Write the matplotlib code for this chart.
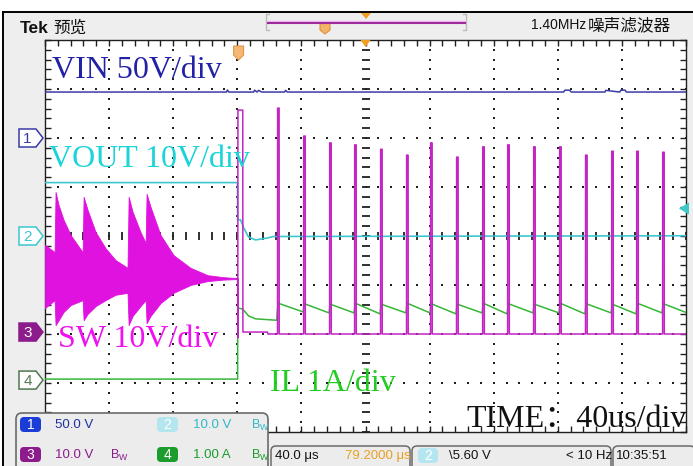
import numpy as np
import matplotlib
matplotlib.use("Agg")
import matplotlib.pyplot as plt
from matplotlib.patches import Rectangle, Polygon, FancyBboxPatch

plt.rcParams['font.family'] = ['Liberation Sans', 'Noto Sans CJK SC']

# horizontal: 40 us/div, trigger at t = 0, screen centre at 79.2 us
T_DIV = 40.0
T_DELAY = 79.2
T_LEFT = T_DELAY - 5 * T_DIV
T_RIGHT = T_DELAY + 5 * T_DIV

# channel scale (units/div) and ground position (div from centre)
CH1_SCALE, CH1_POS = 50.0, 2.0     # VIN
CH2_SCALE, CH2_POS = 10.0, 0.0     # VOUT
CH3_SCALE, CH3_POS = 10.0, -1.96   # SW
CH4_SCALE, CH4_POS = 1.0, -2.94    # IL
TRIG_LEVEL = 5.60                  # CH2, falling edge

# CH1 VIN (V)
vin_t = [-120.8, -7.5, -7.0, -6.0, 9.4, 10.0, 11.5, 12.5, 14.5, 28.7, 29.4, 30.4,
         202.8, 203.6, 206.5, 207.6, 228.6, 229.2, 237.8, 238.6, 241.2, 242.0, 279.2]
vin_v = [46.9, 46.9, 49.0, 46.9, 46.9, 48.8, 46.9, 48.6, 46.9, 46.9, 48.6, 46.9,
         46.9, 48.8, 48.8, 46.9, 46.9, 48.6, 46.9, 48.8, 48.8, 46.9, 46.9]

# CH2 VOUT (V)
vout_t = [-120.8, -0.7, -0.6, 1.2, 3.3, 6.2, 10.6, 18.1, 21.8, 279.2]
vout_v = [10.9, 10.9, 3.3, 3.3, 1.6, -0.2, -0.8, -0.4, -0.1, 0.05]

# CH3 SW: ringing envelope before the trigger (V)
sw_ring_t = [-120.8, -114.8, -114.2, -112.3, -109.2, -104.8, -97.3, -96.7, -94.2, -89.2,
             -83.0, -76.8, -69.3, -68.6, -66.1, -61.2, -58.0, -57.4, -54.9, -48.7,
             -40.6, -30.0, -19.3, -9.4, -1.2]
sw_ring_hi = [17.8, 16.3, 28.6, 25.9, 22.9, 19.8, 16.3, 27.6, 24.9, 20.4,
              17.1, 14.7, 13.1, 27.6, 24.5, 20.4, 18.2, 28.2, 25.5, 19.8,
              15.7, 13.1, 11.6, 11.2, 11.0]
sw_ring_lo = [4.9, 6.5, 1.4, 2.4, 4.1, 5.5, 6.5, 2.4, 3.7, 5.3,
              6.5, 7.6, 8.0, 1.4, 3.3, 5.3, 6.5, 1.8, 3.3, 5.9,
              8.0, 9.6, 10.4, 10.7, 10.8]

# CH3 SW around the trigger, then the switching pulses
sw_trig_t = [-1.2, -0.6, -0.5, -0.4, 2.6, 2.7, 18.0, 18.3]
sw_trig_v = [10.9, 10.9, -1.2, 45.3, 45.3, 0.0, 0.0, -0.4]
sw_pulse_t = [24.3, 40.6, 56.8, 72.4, 88.6, 104.8, 119.8, 136.0,
              152.3, 167.9, 184.1, 200.3, 216.5, 232.8, 248.4, 264.6]
sw_pulse_pk = [45.7, 40.0, 38.6, 38.2, 37.3, 36.1, 38.6, 35.7,
               37.8, 38.2, 37.8, 37.8, 36.1, 36.9, 36.9, 36.7]
SW_LOW = -0.4
PULSE_W = 1.0

# CH4 IL (A)
il_pre_t = [-120.8, -0.6, -0.5, 2.5, 6.2, 10.6, 23.8]
il_pre_v = [0.02, 0.02, 1.47, 1.45, 1.31, 1.25, 1.22]
il_peak = [1.57, 1.56, 1.55, 1.57, 1.55, 1.57, 1.56, 1.55,
           1.57, 1.56, 1.55, 1.57, 1.56, 1.55, 1.57, 1.56]
il_valley = [1.39, 1.37, 1.37, 1.35, 1.37, 1.37, 1.35, 1.37,
             1.35, 1.37, 1.37, 1.35, 1.37, 1.35, 1.37, 1.38]

C_VIN = '#3a3aa6'
C_VOUT = '#3cc6d2'
C_SW = '#c424c4'
C_RING = '#e012e0'
C_IL = '#36b636'


def div(v, scale, pos):
    return pos + np.asarray(v, dtype=float) / scale


fig = plt.figure(figsize=(6.93, 4.66), dpi=100)

# frame / background in pixel coordinates
bg = fig.add_axes([0, 0, 1, 1], zorder=0)
bg.set_xlim(0, 693)
bg.set_ylim(466, 0)
bg.axis('off')
bg.add_patch(Rectangle((3, 12), 690, 454, fc='#eeeeee', ec='none'))
bg.plot([3, 693], [12, 12], color='black', lw=1.4)
bg.plot([3, 3], [12, 466], color='black', lw=1.4)

# graticule
ax = fig.add_axes([45 / 693, 34 / 466, 641 / 693, 392 / 466], zorder=1)
ax.set_facecolor('white')
ax.set_xlim(T_LEFT, T_RIGHT)
ax.set_ylim(-4, 4)
xs_minor = np.arange(T_LEFT, T_RIGHT + 1e-6, T_DIV / 5)
ys_minor = np.arange(-4, 4.0001, 0.2)
ax.set_xticks(xs_minor)
ax.set_yticks(ys_minor)
ax.tick_params(axis='both', direction='in', length=4, width=1, color='#202020',
               top=True, right=True, labelbottom=False, labelleft=False)
for s in ax.spines.values():
    s.set_color('#202020')
    s.set_linewidth(1.0)

for k in range(1, 10):
    xm = T_LEFT + k * T_DIV
    if k == 5:
        ax.plot(np.full(len(ys_minor), xm), ys_minor, ls='none', marker='_',
                ms=6, mew=1.3, color='#202020', zorder=1)
    else:
        ax.plot(np.full(len(ys_minor), xm), ys_minor, ls='none', marker='s',
                ms=1.5, mew=0, color='#202020', zorder=1)
for j in range(1, 8):
    ym = -4 + j
    if j == 4:
        ax.plot(xs_minor, np.full(len(xs_minor), ym), ls='none', marker='|',
                ms=6, mew=1.3, color='#202020', zorder=1)
    else:
        ax.plot(xs_minor, np.full(len(xs_minor), ym), ls='none', marker='s',
                ms=1.5, mew=0, color='#202020', zorder=1)

# CH4 IL
il_t = list(il_pre_t)
il_v = list(il_pre_v)
for k, t0 in enumerate(sw_pulse_t):
    t1 = sw_pulse_t[k + 1] - 0.3 if k + 1 < len(sw_pulse_t) else T_RIGHT
    il_t += [t0 + 0.3, t1]
    il_v += [il_peak[k], il_valley[k]]
ax.plot(il_t, div(il_v, CH4_SCALE, CH4_POS), color=C_IL, lw=1.1, zorder=3)

# CH2 VOUT
ax.plot(vout_t, div(vout_v, CH2_SCALE, CH2_POS), color=C_VOUT, lw=1.2, zorder=3)

# CH1 VIN
ax.plot(vin_t, div(vin_v, CH1_SCALE, CH1_POS), color=C_VIN, lw=1.1, zorder=3)

# CH3 SW
ax.fill_between(sw_ring_t, div(sw_ring_hi, CH3_SCALE, CH3_POS),
                div(sw_ring_lo, CH3_SCALE, CH3_POS), color=C_RING, lw=0.6, zorder=4)
sw_t = list(sw_trig_t)
sw_v = list(sw_trig_v)
for t0, pk in zip(sw_pulse_t, sw_pulse_pk):
    sw_t += [t0, t0 + 0.05, t0 + PULSE_W, t0 + PULSE_W + 0.05]
    sw_v += [SW_LOW, pk, pk, SW_LOW]
sw_t.append(T_RIGHT)
sw_v.append(SW_LOW)
ax.plot(sw_t, div(sw_v, CH3_SCALE, CH3_POS), color=C_SW, lw=1.1, zorder=4)

# overlay: readouts, markers and labels in pixel coordinates
ov = fig.add_axes([0, 0, 1, 1], zorder=3)
ov.set_xlim(0, 693)
ov.set_ylim(466, 0)
ov.axis('off')
ov.patch.set_alpha(0)


def to_px(t, d):
    return ov.transData.inverted().transform(ax.transData.transform((t, d)))


# header
ov.text(20, 33, 'Tek', fontsize=12.5, fontweight='bold', color='#111111')
ov.text(53, 33, '预览', fontsize=12, color='#111111', family='Noto Sans CJK SC')
ov.text(531, 29, '1.40MHz', fontsize=10, color='#111111')
ov.text(588, 30, '噪声滤波器', fontsize=12, color='#111111', family='Noto Sans CJK SC')

# record position bar
ov.plot([269, 266, 266, 269], [14, 14, 30, 30], color='#bbbbbb', lw=1)
ov.plot([463, 466, 466, 463], [14, 14, 30, 30], color='#bbbbbb', lw=1)
ov.plot([268, 465], [21, 21], color='#f4b8f4', lw=1)
ov.plot([268, 465], [23, 23], color='#9c2c9c', lw=1.5)
ov.add_patch(Polygon([(320, 22), (330, 22), (330, 30), (325, 34), (320, 30)],
                     fc='#f2b468', ec='#e09040', lw=0.8))
ov.add_patch(Polygon([(361, 13), (371, 13), (366, 19)], fc='#f0a020', ec='none'))

# trigger position / horizontal position markers
xt, _ = to_px(0.0, 4)
ov.add_patch(Polygon([(xt - 5, 46), (xt + 5, 46), (xt + 5, 55), (xt, 60), (xt - 5, 55)],
                     fc='#f4b874', ec='#e09848', lw=0.8))
xc, yc = to_px(T_DELAY, 4)
ov.add_patch(Polygon([(xc - 5, yc), (xc + 5, yc), (xc, yc + 7)], fc='#f0a020', ec='none'))

# trigger level arrow
_, ytl = to_px(T_RIGHT, div(TRIG_LEVEL, CH2_SCALE, CH2_POS))
ov.add_patch(Polygon([(679, ytl), (689, ytl - 6), (689, ytl + 6)], fc='#40c8c8', ec='none'))

# channel ground markers
tags = [('1', CH1_POS, C_VIN, 'white', C_VIN),
        ('2', CH2_POS, C_VOUT, 'white', C_VOUT),
        ('3', CH3_POS, '#8c1c8c', '#8c1c8c', 'white'),
        ('4', CH4_POS, '#507850', 'white', '#507850')]
for lab, pos, edge, face, tc in tags:
    _, y = to_px(T_LEFT, pos)
    ov.add_patch(Polygon([(19, y - 9), (36, y - 9), (43, y), (36, y + 9), (19, y + 9)],
                         fc=face, ec=edge, lw=1.1))
    ov.text(27.5, y + 0.5, lab, fontsize=11, color=tc, ha='center', va='center')

# channel labels
serif = ['Liberation Serif', 'Noto Sans CJK SC']
ov.text(52, 78, 'VIN 50V/div', fontsize=23, color='#2222a6', family=serif)
ov.text(49, 167, 'VOUT 10V/div', fontsize=23, color='#1ad4d8', family=serif)
ov.text(58, 347, 'SW 10V/div', fontsize=23, color='#f010f0', family=serif)
ov.text(270, 391, 'IL 1A/div', fontsize=23, color='#22cc22', family=serif)
ov.text(466, 427, 'TIME：40us/div', fontsize=23, color='#111111', family=serif)

# vertical readout panel
ov.add_patch(FancyBboxPatch((16, 413), 252, 60, boxstyle='round,pad=0,rounding_size=6',
                            fc='#ececec', ec='#6a6a6a', lw=1.2))
badges = [(20, 417, '1', '#1c3cd8'), (157, 417, '2', '#b4e6f0'),
          (20, 447, '3', '#8c1c8c'), (157, 447, '4', '#1c9c2c')]
for bx, by, lab, fc in badges:
    ov.add_patch(FancyBboxPatch((bx, by), 21, 15, boxstyle='round,pad=0,rounding_size=4',
                                fc=fc, ec='none'))
    ov.text(bx + 10.5, by + 8, lab, fontsize=10, color='white', ha='center', va='center')

ov.text(55, 425, '50.0 V', fontsize=9.5, color='#2030a0', va='center')
ov.text(193, 425, '10.0 V', fontsize=9.5, color='#30b8c8', va='center')
ov.text(55, 455, '10.0 V', fontsize=9.5, color='#8c1c8c', va='center')
ov.text(193, 455, '1.00 A', fontsize=9.5, color='#1c9c2c', va='center')
for bx, by, c in [(251, 425, '#30b8c8'), (110, 455, '#8c1c8c'), (251, 455, '#1c9c2c')]:
    ov.text(bx, by, r'B$_\mathregular{W}$', fontsize=9, color=c, va='center')

# horizontal / trigger readouts
for x0, w in [(271, 139), (412, 199), (613, 82)]:
    ov.add_patch(FancyBboxPatch((x0, 446), w, 30, boxstyle='round,pad=0,rounding_size=5',
                                fc='#ececec', ec='#6a6a6a', lw=1.1))
ov.text(275, 456, '40.0 μs', fontsize=9.5, color='#111111', va='center')
ov.text(345, 456, '79.2000 μs', fontsize=9.5, color='#e8a020', va='center')
ov.add_patch(FancyBboxPatch((418, 448), 20, 15, boxstyle='round,pad=0,rounding_size=4',
                            fc='#b4e6f0', ec='none'))
ov.text(428, 456, '2', fontsize=10, color='white', ha='center', va='center')
ov.text(449, 456, '\\5.60 V', fontsize=9.5, color='#111111', va='center')
ov.text(566, 456, '< 10 Hz', fontsize=9.5, color='#111111', va='center')
ov.text(616, 456, '10:35:51', fontsize=9.5, color='#111111', va='center')

fig.savefig('out.png', dpi=100)
